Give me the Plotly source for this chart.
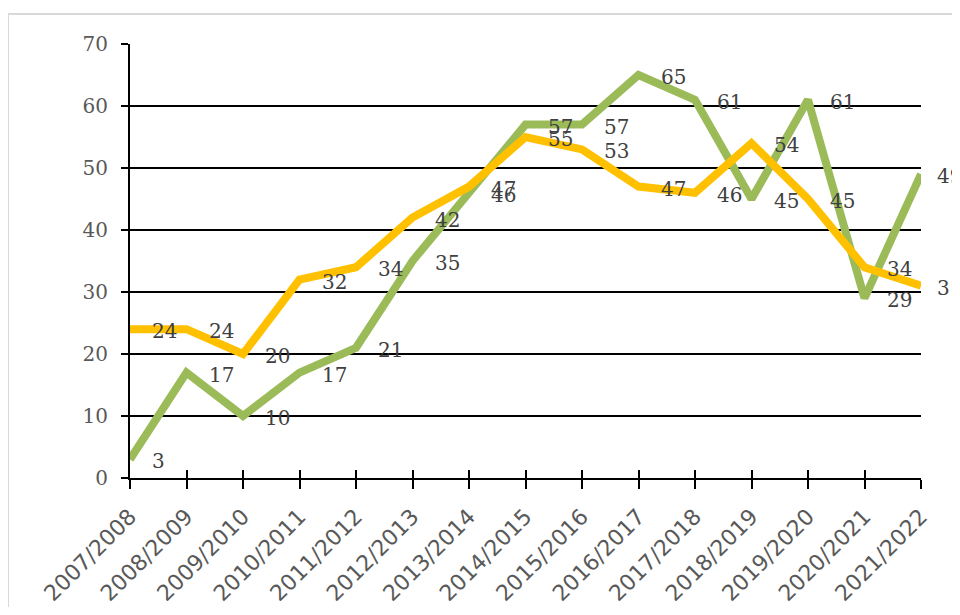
import plotly.graph_objects as go

categories = ["2007/2008", "2008/2009", "2009/2010", "2010/2011", "2011/2012",
              "2012/2013", "2013/2014", "2014/2015", "2015/2016", "2016/2017",
              "2017/2018", "2018/2019", "2019/2020", "2020/2021", "2021/2022"]
green_values = [3, 17, 10, 17, 21, 35, 46, 57, 57, 65, 61, 45, 61, 29, 49]
yellow_values = [24, 24, 20, 32, 34, 42, 47, 55, 53, 47, 46, 54, 45, 34, 31]
y_ticks = [0, 10, 20, 30, 40, 50, 60, 70]

GREEN = "#9BBB59"
YELLOW = "#FFC000"
LABEL_FONT = dict(family="DejaVu Serif", size=20, color="#404040")

fig = go.Figure()
fig.add_trace(go.Scatter(x=categories, y=green_values, mode="lines",
                         line=dict(color=GREEN, width=8), cliponaxis=False,
                         showlegend=False, hoverinfo="skip"))
fig.add_trace(go.Scatter(x=categories, y=yellow_values, mode="lines",
                         line=dict(color=YELLOW, width=8), cliponaxis=False,
                         showlegend=False, hoverinfo="skip"))

annotations = []
last = len(categories) - 1
for series in (green_values, yellow_values):
    for i, (c, v) in enumerate(zip(categories, series)):
        annotations.append(dict(x=c, y=v, xref="x", yref="y", text=str(v),
                                showarrow=False, xanchor="left", yanchor="middle",
                                xshift=14 if i == last else 20, yshift=-2,
                                font=LABEL_FONT))

fig.update_layout(
    width=944, height=599,
    margin=dict(l=122, r=31, t=36, b=129, autoexpand=False),
    paper_bgcolor="white", plot_bgcolor="white",
    annotations=annotations,
    xaxis=dict(type="category", range=[0, 14], showgrid=False, automargin=False,
               showline=True, linecolor="black", linewidth=2,
               ticks="outside", ticklen=9, tickcolor="black", tickwidth=2,
               tickangle=-45, ticklabelstandoff=6,
               tickfont=dict(family="DejaVu Sans", size=22, color="#595959"),
               zeroline=False),
    xaxis2=dict(overlaying="x", anchor="y", side="bottom", range=[0, 14],
                tickmode="linear", tick0=0, dtick=1, ticks="inside", ticklen=8,
                tickcolor="black", tickwidth=2, showticklabels=False,
                showgrid=False, showline=False, zeroline=False),
    yaxis=dict(range=[0, 70], tickvals=y_ticks, showgrid=True, automargin=False,
               gridcolor="black", gridwidth=1.5,
               showline=True, linecolor="black", linewidth=2,
               ticks="outside", ticklen=7, tickcolor="black", tickwidth=2,
               ticklabelstandoff=9,
               tickfont=dict(family="DejaVu Serif", size=20, color="#595959"),
               zeroline=False),
    shapes=[dict(type="rect", xref="paper", yref="paper",
                 x0=-0.1542, x1=1.2, y0=-0.5, y1=1.0691,
                 line=dict(color="#D9D9D9", width=2), fillcolor="rgba(0,0,0,0)",
                 layer="below")],
)
# invisible helper trace so the crossing-tick axis is drawn
fig.add_trace(go.Scatter(x=[0], y=[None], xaxis="x2", yaxis="y",
                         mode="lines", showlegend=False, hoverinfo="skip"))

fig.write_html("out.html")
